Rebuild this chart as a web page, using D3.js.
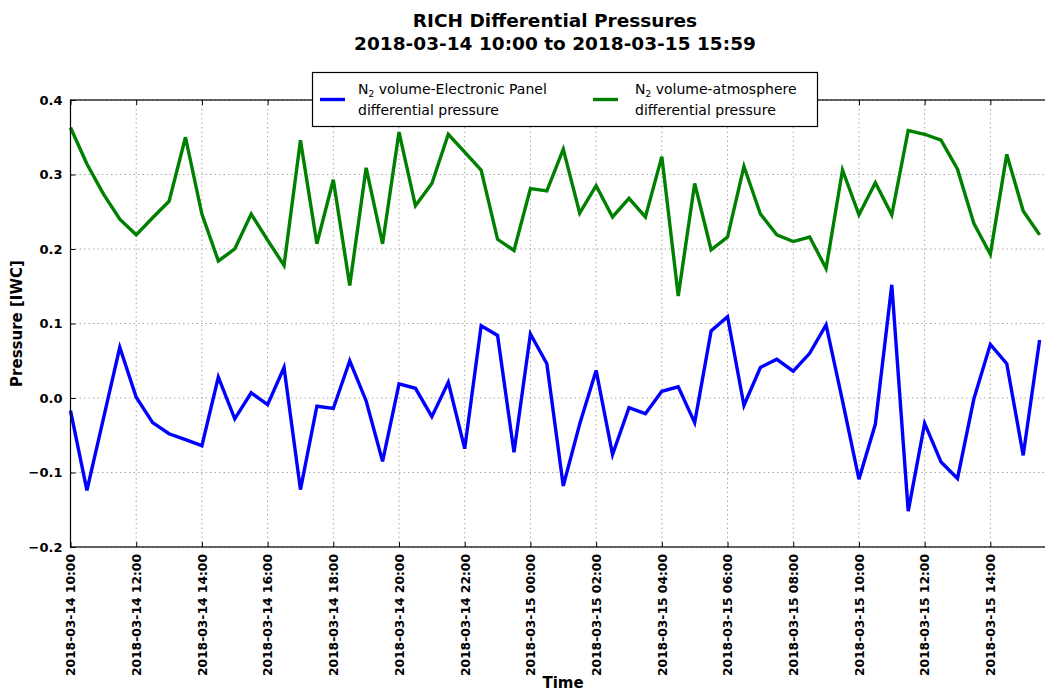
<!DOCTYPE html>
<html>
<head>
<meta charset="utf-8">
<script src="https://cdn.jsdelivr.net/npm/d3@7"></script>
<style>
  html, body { margin: 0; padding: 0; background: #fff; }
  svg { display: block; font-family: "DejaVu Sans", sans-serif; }
</style>
</head>
<body>
<svg id="chart" width="1045" height="694"></svg>
<script>
const times = [
  "2018-03-14 10:00","2018-03-14 10:30","2018-03-14 11:00","2018-03-14 11:30",
  "2018-03-14 12:00","2018-03-14 12:30","2018-03-14 13:00","2018-03-14 13:30",
  "2018-03-14 14:00","2018-03-14 14:30","2018-03-14 15:00","2018-03-14 15:30",
  "2018-03-14 16:00","2018-03-14 16:30","2018-03-14 17:00","2018-03-14 17:30",
  "2018-03-14 18:00","2018-03-14 18:30","2018-03-14 19:00","2018-03-14 19:30",
  "2018-03-14 20:00","2018-03-14 20:30","2018-03-14 21:00","2018-03-14 21:30",
  "2018-03-14 22:00","2018-03-14 22:30","2018-03-14 23:00","2018-03-14 23:30",
  "2018-03-15 00:00","2018-03-15 00:30","2018-03-15 01:00","2018-03-15 01:30",
  "2018-03-15 02:00","2018-03-15 02:30","2018-03-15 03:00","2018-03-15 03:30",
  "2018-03-15 04:00","2018-03-15 04:30","2018-03-15 05:00","2018-03-15 05:30",
  "2018-03-15 06:00","2018-03-15 06:30","2018-03-15 07:00","2018-03-15 07:30",
  "2018-03-15 08:00","2018-03-15 08:30","2018-03-15 09:00","2018-03-15 09:30",
  "2018-03-15 10:00","2018-03-15 10:30","2018-03-15 11:00","2018-03-15 11:30",
  "2018-03-15 12:00","2018-03-15 12:30","2018-03-15 13:00","2018-03-15 13:30",
  "2018-03-15 14:00","2018-03-15 14:30","2018-03-15 15:00","2018-03-15 15:30"
];

const panelDiff = [
  -0.017, -0.124, -0.028, 0.068, 0.001, -0.033, -0.048, -0.056,
  -0.064, 0.028, -0.028, 0.007, -0.009, 0.041, -0.123, -0.011,
  -0.014, 0.050, -0.004, -0.085, 0.019, 0.013, -0.025, 0.021,
  -0.068, 0.097, 0.084, -0.073, 0.086, 0.046, -0.118, -0.035,
  0.037, -0.076, -0.013, -0.021, 0.009, 0.015, -0.033, 0.090,
  0.109, -0.010, 0.041, 0.052, 0.036, 0.060, 0.098, -0.004,
  -0.109, -0.035, 0.152, -0.152, -0.034, -0.086, -0.108, -0.001,
  0.072, 0.046, -0.077, 0.078
];

const atmDiff = [
  0.363, 0.314, 0.274, 0.240, 0.219, 0.242, 0.264, 0.350,
  0.247, 0.184, 0.200, 0.247, 0.212, 0.178, 0.346, 0.207,
  0.293, 0.151, 0.309, 0.207, 0.357, 0.258, 0.288, 0.354,
  0.330, 0.306, 0.213, 0.198, 0.281, 0.278, 0.334, 0.248,
  0.285, 0.243, 0.268, 0.243, 0.324, 0.137, 0.288, 0.199,
  0.216, 0.311, 0.247, 0.219, 0.210, 0.216, 0.174, 0.306,
  0.246, 0.289, 0.246, 0.359, 0.354, 0.346, 0.307, 0.234,
  0.193, 0.327, 0.251, 0.219
];

const yTicks = [-0.2, -0.1, 0.0, 0.1, 0.2, 0.3, 0.4];
const titleLines = ["RICH Differential Pressures", "2018-03-14 10:00 to 2018-03-15 15:59"];
const seriesNames = [
  ["volume-Electronic Panel", "differential pressure"],
  ["volume-atmosphere", "differential pressure"]
];
const seriesColors = ["#0000ff", "#008000"];
const xStart = "2018-03-14 10:00";
const xEnd = "2018-03-15 15:59";

const parse = d3.utcParse("%Y-%m-%d %H:%M");
const fmt = d3.utcFormat("%Y-%m-%d %H:%M");

const svg = d3.select("#chart");
const L = 70.5, R = 1055.5, T = 100, B = 547;

const x = d3.scaleUtc().domain([parse(xStart), parse(xEnd)]).range([L, R]);
const y = d3.scaleLinear().domain([-0.2, 0.4]).range([B, T]);

const xTickVals = d3.utcHour.every(2).range(parse(xStart), parse(xEnd));

// grid
const grid = svg.append("g");
grid.selectAll("line.gx").data(xTickVals).join("line")
  .attr("x1", d => x(d)).attr("x2", d => x(d))
  .attr("y1", T).attr("y2", B)
  .attr("stroke", "#a8a8a8").attr("stroke-width", 1).attr("stroke-dasharray", "1.5,3");
grid.selectAll("line.gy").data(yTicks).join("line")
  .attr("x1", L).attr("x2", R)
  .attr("y1", d => y(d)).attr("y2", d => y(d))
  .attr("stroke", "#a8a8a8").attr("stroke-width", 1).attr("stroke-dasharray", "1.5,3");

// lines
const series = [panelDiff, atmDiff];
const line = d3.line().x((d, i) => x(parse(times[i]))).y(d => y(d));
series.forEach((s, k) => {
  svg.append("path").datum(s)
    .attr("d", line)
    .attr("fill", "none")
    .attr("stroke", seriesColors[k])
    .attr("stroke-width", 3.4)
    .attr("stroke-linejoin", "miter");
});

// spines
svg.append("rect").attr("x", L).attr("y", T).attr("width", R - L).attr("height", B - T)
  .attr("fill", "none").attr("stroke", "#000").attr("stroke-width", 1.2);

// axes (ticks inside)
const xAxis = d3.axisBottom(x).tickValues(xTickVals).tickSize(-5).tickPadding(8).tickFormat(fmt);
const gx = svg.append("g").attr("transform", `translate(0,${B})`).call(xAxis);
gx.select(".domain").remove();
gx.selectAll("text")
  .attr("font-family", "DejaVu Sans").attr("font-weight", "bold").attr("font-size", 12.3)
  .attr("fill", "#000")
  .attr("transform", "rotate(-90)")
  .attr("text-anchor", "end")
  .attr("x", -7).attr("y", 0).attr("dy", "0.35em");

const xAxisTop = d3.axisTop(x).tickValues(xTickVals).tickSize(-5).tickFormat("");
const gxt = svg.append("g").attr("transform", `translate(0,${T})`).call(xAxisTop);
gxt.select(".domain").remove();

const yAxis = d3.axisLeft(y).tickValues(yTicks).tickSize(-5).tickPadding(8)
  .tickFormat(d => d3.format(".1f")(d).replace("-", "\u2212"));
const gy = svg.append("g").attr("transform", `translate(${L},0)`).call(yAxis);
gy.select(".domain").remove();
gy.selectAll("text")
  .attr("font-family", "DejaVu Sans").attr("font-weight", "bold").attr("font-size", 13)
  .attr("fill", "#000");

// axis labels
svg.append("text").attr("x", 563).attr("y", 688)
  .attr("text-anchor", "middle").attr("font-weight", "bold").attr("font-size", 15)
  .text("Time");
svg.append("text").attr("transform", `translate(22,${(T + B) / 2}) rotate(-90)`)
  .attr("text-anchor", "middle").attr("font-weight", "bold").attr("font-size", 15)
  .text("Pressure [IWC]");

// title
titleLines.forEach((t, i) => {
  svg.append("text").attr("x", 555).attr("y", 27 + i * 23)
    .attr("text-anchor", "middle").attr("font-weight", "bold").attr("font-size", 18.5)
    .text(t);
});

// legend
const lg = svg.append("g");
lg.append("rect").attr("x", 312.5).attr("y", 72.5).attr("width", 505).attr("height", 54)
  .attr("fill", "#fff").attr("stroke", "#000").attr("stroke-width", 1.2);
const legendX = [320, 593];
series.forEach((s, k) => {
  const lx = legendX[k];
  lg.append("line").attr("x1", lx).attr("x2", lx + 25).attr("y1", 99.5).attr("y2", 99.5)
    .attr("stroke", seriesColors[k]).attr("stroke-width", 3.4);
  const tx = lx + 38 + (k === 1 ? 4 : 0);
  const t1 = lg.append("text").attr("x", tx).attr("y", 94).attr("font-size", 14).attr("fill", "#000");
  t1.append("tspan").text("N");
  t1.append("tspan").attr("font-size", 9).attr("dy", 3).text("2");
  t1.append("tspan").attr("dy", -3).text(" " + seriesNames[k][0]);
  lg.append("text").attr("x", tx).attr("y", 115).attr("font-size", 14).attr("fill", "#000")
    .text(seriesNames[k][1]);
});
</script>
</body>
</html>
